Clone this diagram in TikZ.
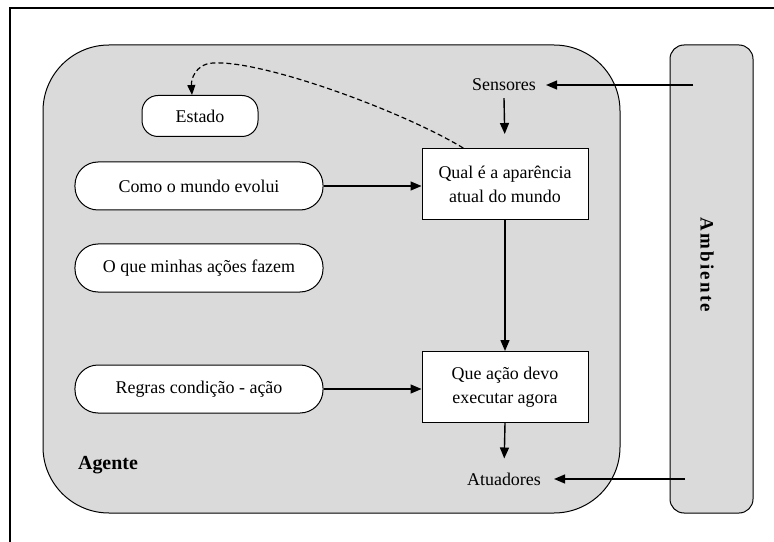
\documentclass[tikz,border=0pt]{standalone}
\usepackage{fontspec}
\setmainfont{Liberation Serif}
\usetikzlibrary{arrows.meta,calc}
\definecolor{panel}{HTML}{DADADA}
\tikzset{
  every picture/.style={x=1bp,y=-1bp},
  lbl/.style={font=\fontsize{18}{20}\selectfont, inner sep=0pt},
  pill/.style={draw=black, line width=1bp, fill=white, rounded corners=23bp,
    minimum width=248bp, minimum height=48bp, inner sep=0pt,
    font=\fontsize{18}{20}\selectfont},
  statebox/.style={draw=black, line width=1bp, fill=white, rounded corners=16bp,
    minimum width=116bp, minimum height=41bp, inner sep=0pt,
    font=\fontsize{18}{20}\selectfont},
  procbox/.style={draw=black, line width=1bp, fill=white,
    minimum width=166bp, minimum height=71bp, inner sep=0pt, align=center,
    font=\fontsize{18}{24}\selectfont},
  arr/.style={line width=1.4bp, -{Triangle[length=11bp,width=9bp]}},
}
\begin{document}
\begin{tikzpicture}
\useasboundingbox (0,0) rectangle (774,542);
% outer frame
\draw[line width=1.2bp] (10,560) -- (10,8) -- (790,8);
% agent body
\draw[line width=1bp, fill=panel, rounded corners=66bp] (43,45) rectangle (620,513);
% environment bar
\draw[line width=1bp, fill=panel, rounded corners=14bp] (670,45) rectangle (753,513);
\node[font=\fontsize{19}{20}\selectfont\bfseries\addfontfeature{LetterSpace=12}, rotate=-90, inner sep=0pt] (amb) at (707,265) {Ambiente};
\node[font=\fontsize{20}{22}\selectfont\bfseries, inner sep=0pt] (ag) at (108,465) {Agente};

% components
\node[statebox] (est) at (200,116) {Estado};
\node[pill] (como) at (199,186) {Como o mundo evolui};
\node[pill] (oque) at (199,268) {O que minhas ações fazem};
\node[pill] (regras) at (199,389) {Regras condição - ação};
\node[procbox] (qual) at (505,184) {Qual é a aparência\\atual do mundo};
\node[procbox] (que) at (505,387) {Que ação devo\\executar agora};
\node[lbl] (sens) at (504,85) {Sensores};
\node[lbl] (atu) at (504,479) {Atuadores};
\coordinate (ins) at (693,85);
\coordinate (outs) at (685,479);

% connectors
\draw[arr] (ins) -- ($(ins -| sens.east)+(10,0)$);
\draw[arr] (outs) -- ($(outs -| atu.east)+(13,0)$);
\draw[arr, shorten >=14bp] ($(sens.south)+(0,7)$) -- (qual.north);
\draw[arr] (qual.south) -- (que.north);
\draw[arr, shorten >=12bp] (que.south) -- ($(atu.north)+(0,-2)$);
\draw[arr] (como.east) -- (como.east -| qual.west);
\draw[arr] (regras.east) -- (regras.east -| que.west);
\draw[line width=1.2bp, dash pattern=on 5bp off 3bp, -{Triangle[length=10bp,width=8bp]}]
  ($(qual.north west)!0.25!(qual.north east)$)
  .. controls (400,110) and (262,60) .. (213,63)
  .. controls (195,64) and (191,80) .. (est.north -| 192,0);
\end{tikzpicture}
\end{document}
